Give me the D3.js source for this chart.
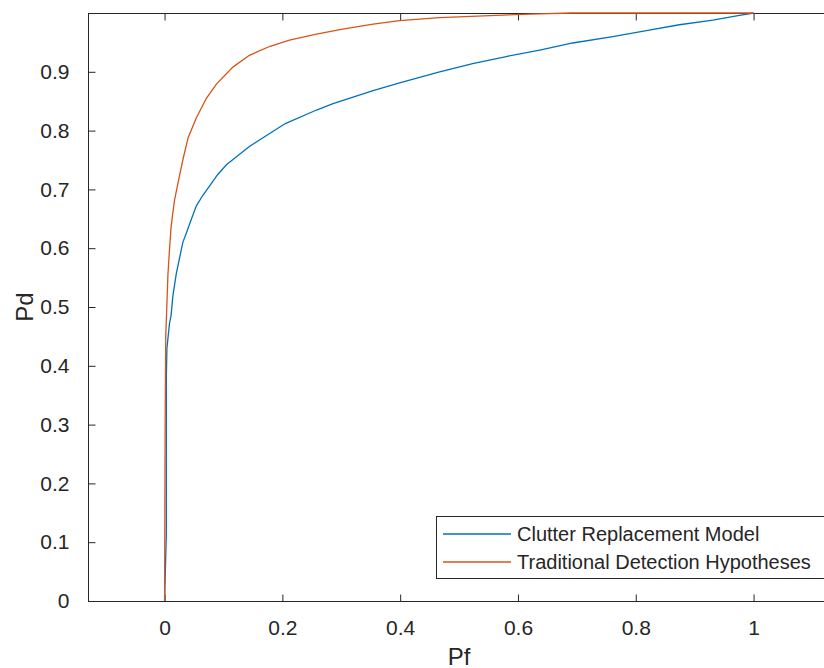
<!DOCTYPE html>
<html>
<head>
<meta charset="utf-8">
<script src="https://cdn.jsdelivr.net/npm/d3@7"></script>
<style>
	body { margin: 0; background: #fff; }
	text { font-family: "Liberation Sans", Arial, Helvetica, sans-serif; }
</style>
</head>
<body>
<div id="roc"></div>
<script>

var width = 824;
var height = 668;

// ROC data
var pfClutter = [0, 0.003, 0.003, 0.004, 0.0085, 0.011, 0.014, 0.020, 0.031, 0.037, 0.045, 0.054, 0.065, 0.076, 0.090, 0.105, 0.144, 0.205, 0.258, 0.286, 0.354, 0.399, 0.467, 0.523, 0.580, 0.637, 0.693, 0.761, 0.818, 0.874, 0.931, 0.976, 1.0];
var pdClutter = [0, 0.115, 0.38, 0.43, 0.473, 0.485, 0.518, 0.557, 0.610, 0.626, 0.648, 0.672, 0.690, 0.705, 0.725, 0.742, 0.773, 0.812, 0.835, 0.846, 0.868, 0.881, 0.900, 0.914, 0.926, 0.937, 0.949, 0.960, 0.970, 0.980, 0.988, 0.996, 1.0];

var pfTraditional = [0, 0.001, 0.002, 0.003, 0.0057, 0.0085, 0.011, 0.014, 0.017, 0.023, 0.031, 0.040, 0.054, 0.071, 0.088, 0.116, 0.144, 0.178, 0.212, 0.258, 0.300, 0.354, 0.399, 0.467, 0.563, 0.620, 0.690, 1.0];
var pdTraditional = [0, 0.30, 0.45, 0.478, 0.555, 0.600, 0.635, 0.660, 0.682, 0.712, 0.750, 0.788, 0.822, 0.855, 0.879, 0.908, 0.928, 0.943, 0.954, 0.964, 0.972, 0.981, 0.987, 0.992, 0.996, 0.998, 1.0, 1.0];

var seriesNames = ["Clutter Replacement Model", "Traditional Detection Hypotheses"];
var seriesColors = ["#0072BD", "#D95319"];

var xTicks = [0, 0.2, 0.4, 0.6, 0.8, 1];
var yTicks = [0, 0.1, 0.2, 0.3, 0.4, 0.5, 0.6, 0.7, 0.8, 0.9];

var axisColor = "#262626";

var svg = d3.select("#roc")
			.append("svg")
			.attr("width", width)
			.attr("height", height);

var plotLeft = 88, plotTop = 13, plotBottom = 601;

var x = d3.scaleLinear().domain([-0.13, 1.13]).range([plotLeft, plotLeft + 1.26 * 589]);
var y = d3.scaleLinear().domain([0, 1]).range([plotBottom, plotTop]);

var plotRight = x(1.13);

// axes box, ticks inside like matlab
svg.append("rect")
	.attr("x", plotLeft + 0.5)
	.attr("y", plotTop + 0.5)
	.attr("width", plotRight - plotLeft)
	.attr("height", plotBottom - plotTop)
	.attr("fill", "none")
	.attr("stroke", axisColor);

svg.append("g")
	.attr("transform", "translate(0," + (plotBottom + 0.5) + ")")
	.call(d3.axisBottom(x).tickValues(xTicks).tickSizeInner(-7).tickSizeOuter(0).tickPadding(19).tickFormat(d3.format("")))
	.call(function(g){
		g.select(".domain").remove();
		g.selectAll("line").attr("stroke", axisColor);
		g.selectAll("text").attr("fill", axisColor).style("font-size", "21px");
	});

svg.append("g")
	.attr("transform", "translate(0," + (plotTop + 0.5) + ")")
	.call(d3.axisTop(x).tickValues(xTicks).tickSizeInner(-7).tickSizeOuter(0).tickFormat(""))
	.call(function(g){
		g.select(".domain").remove();
		g.selectAll("line").attr("stroke", axisColor);
	});

svg.append("g")
	.attr("transform", "translate(" + (plotLeft + 0.5) + ",0)")
	.call(d3.axisLeft(y).tickValues(yTicks).tickSizeInner(-7).tickSizeOuter(0).tickPadding(19).tickFormat(d3.format("")))
	.call(function(g){
		g.select(".domain").remove();
		g.selectAll("line").attr("stroke", axisColor);
		g.selectAll("text").attr("fill", axisColor).style("font-size", "21px");
	});

// axis labels
svg.append("text")
	.attr("x", (plotLeft + plotRight) / 2)
	.attr("y", 665)
	.attr("text-anchor", "middle")
	.attr("fill", axisColor)
	.style("font-size", "24px")
	.text("Pf");

svg.append("text")
	.attr("transform", "translate(33," + ((plotTop + plotBottom) / 2) + ") rotate(-90)")
	.attr("text-anchor", "middle")
	.attr("fill", axisColor)
	.style("font-size", "24px")
	.text("Pd");

// curves
var series = [
	{ pf: pfClutter, pd: pdClutter },
	{ pf: pfTraditional, pd: pdTraditional }
];

var line = d3.line()
	.x(function(d){ return x(d[0]); })
	.y(function(d){ return y(d[1]); });

svg.selectAll("path.curve")
	.data(series)
	.enter()
	.append("path")
	.attr("class", "curve")
	.attr("fill", "none")
	.attr("stroke", function(d, i){ return seriesColors[i]; })
	.attr("stroke-width", 1.3)
	.attr("d", function(d){
		return line(d.pf.map(function(v, i){ return [v, d.pd[i]]; }));
	});

// legend
var legend = svg.append("g").attr("transform", "translate(436,516)");

legend.append("rect")
	.attr("x", 0.5)
	.attr("y", 0.5)
	.attr("width", 395)
	.attr("height", 62)
	.attr("fill", "#fff")
	.attr("stroke", axisColor);

var rows = legend.selectAll("g.row")
	.data(seriesNames)
	.enter()
	.append("g")
	.attr("class", "row")
	.attr("transform", function(d, i){ return "translate(0," + (18 + i * 28) + ")"; });

rows.append("line")
	.attr("x1", 7)
	.attr("x2", 75)
	.attr("stroke", function(d, i){ return seriesColors[i]; })
	.attr("stroke-width", 1.3);

rows.append("text")
	.attr("x", 81)
	.attr("dy", "0.35em")
	.attr("fill", axisColor)
	.style("font-size", "20px")
	.text(function(d){ return d; });

</script>
</body>
</html>
